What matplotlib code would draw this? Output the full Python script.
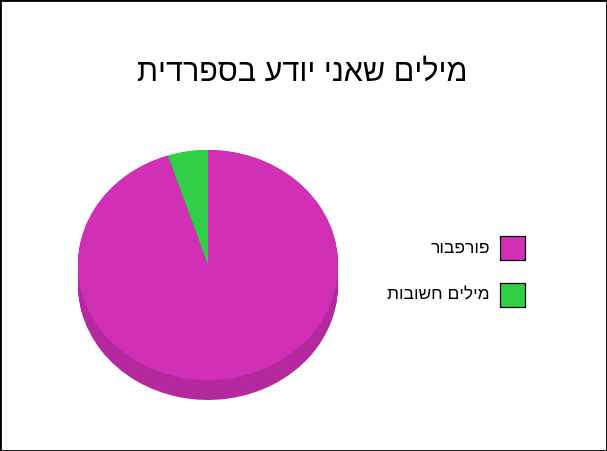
import matplotlib
matplotlib.use('Agg')
import matplotlib.pyplot as plt
from matplotlib.patches import Rectangle

plt.rcParams['font.family'] = ['Liberation Sans', 'DejaVu Sans']

title = 'מילים שאני יודע בספרדית'
labels = ['פורפבור', 'מילים חשובות']
values = [95, 5]
colors = ['#d12fb5', '#2fcf48']
side_colors = ['#b42a9e', '#28b23e']

W, H = 607, 451
fig = plt.figure(figsize=(W / 100, H / 100), dpi=100)

# pie axes: ellipse 260x230 px centred at (208, 265), 20 px of depth below
ax = fig.add_axes([78 / W, 1 - 400 / H, 260 / W, 250 / H])
depth = 20 / 115
# draw green first so it sits just left of 12 o'clock (counter-clockwise)
order = [1, 0]
vals = [values[i] for i in order]
for k in range(21):
    ax.pie(vals, colors=[side_colors[i] for i in order], startangle=90,
           center=(0, -depth * (1 - k / 20)), radius=1,
           wedgeprops=dict(linewidth=0))
ax.pie(vals, colors=[colors[i] for i in order], startangle=90,
       center=(0, 0), radius=1, wedgeprops=dict(linewidth=0))
ax.set_aspect('auto')
ax.set_xlim(-1, 1)
ax.set_ylim(-1 - depth, 1)
ax.axis('off')

fig.text(302 / W, 1 - 73 / H, title[::-1], ha='center', va='center', fontsize=22)

# legend drawn by hand: label on the left, square on the right
for i, (lab, c) in enumerate(zip(labels, colors)):
    top = 236 + 47 * i
    fig.patches.append(Rectangle((500 / W, 1 - (top + 24) / H), 25 / W, 24 / H,
                                 transform=fig.transFigure, facecolor=c,
                                 edgecolor='black', linewidth=0.9))
    fig.text(490 / W, 1 - (top + 12) / H, lab[::-1], ha='right', va='center',
             fontsize=12.5)

fig.patches.append(Rectangle((0, 0), 1, 1, transform=fig.transFigure,
                             fill=False, edgecolor='black', linewidth=2))

fig.savefig('out.png', dpi=100)
